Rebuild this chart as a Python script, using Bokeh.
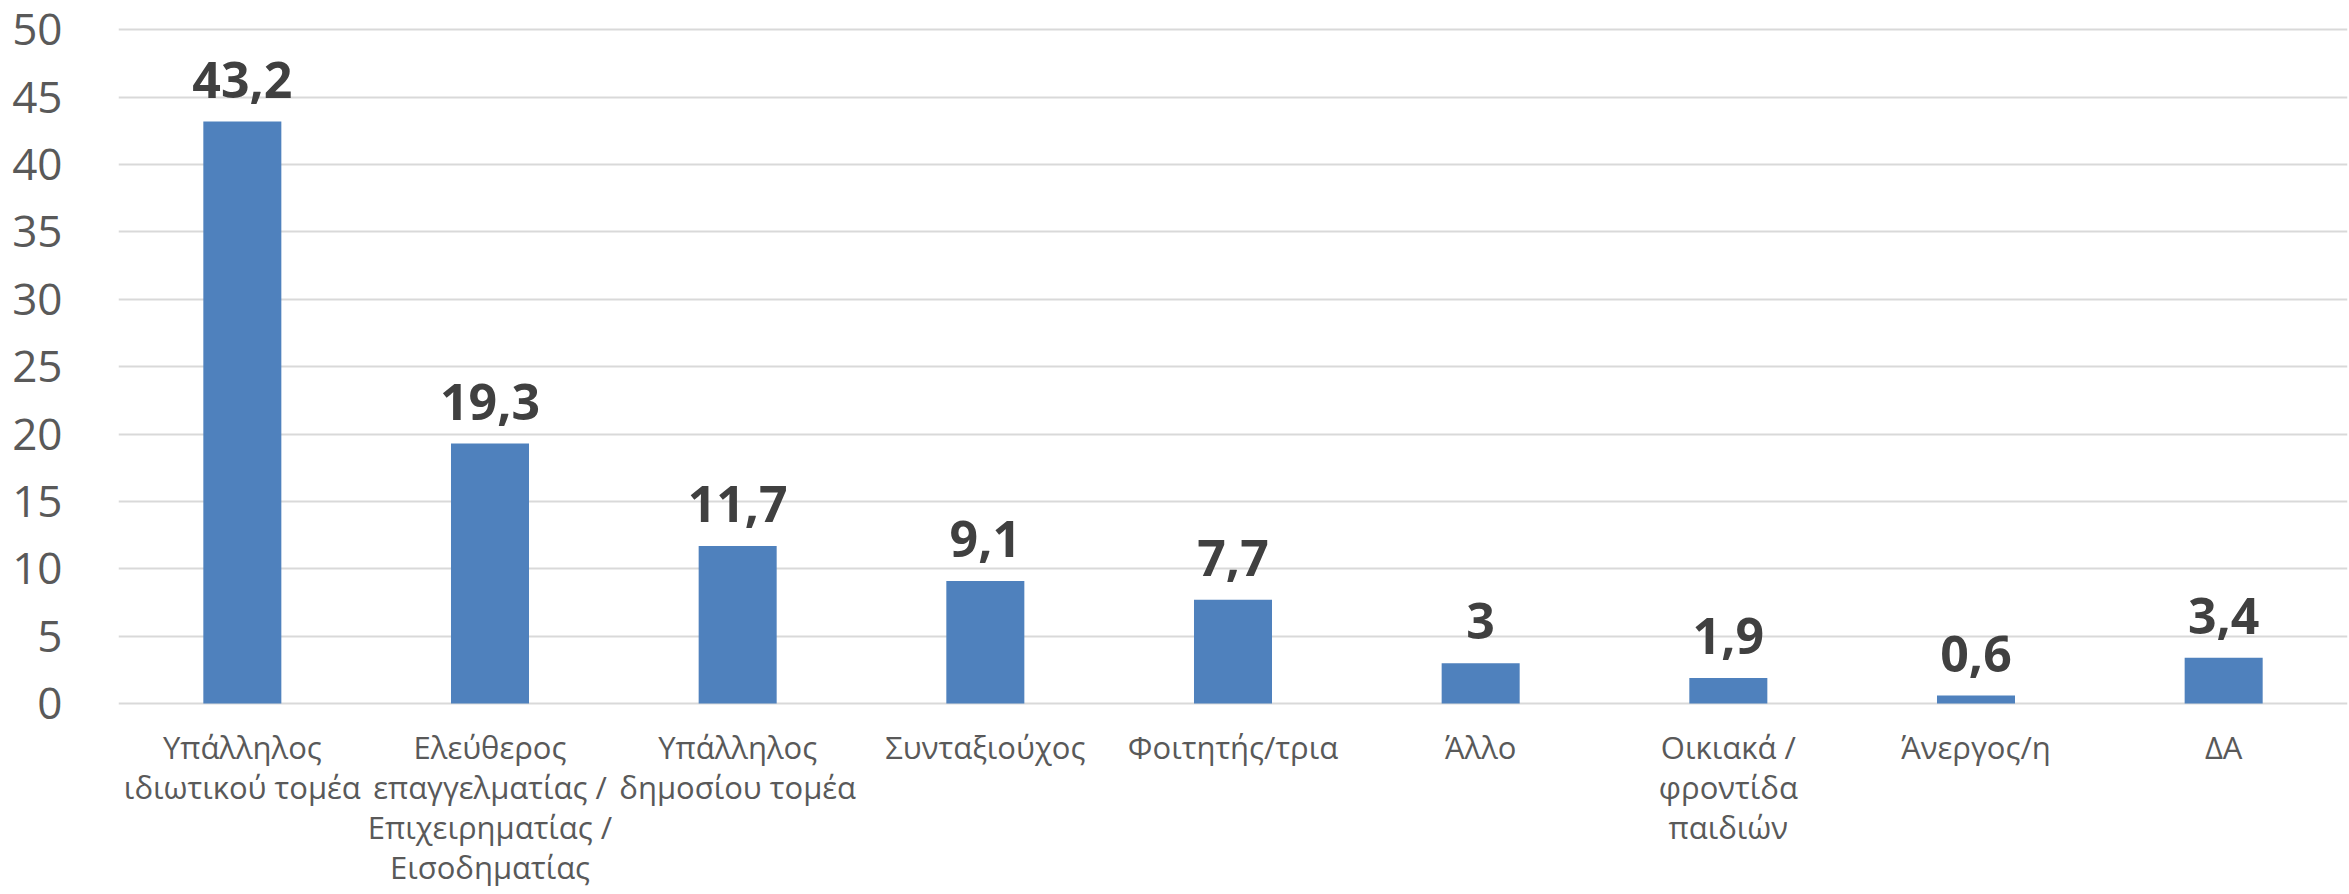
from bokeh.plotting import figure
from bokeh.models import ColumnDataSource, Range1d, FixedTicker
from bokeh.core.properties import value
from bokeh.embed import file_html
from bokeh.resources import INLINE

categories = ["Υπάλληλος ιδιωτικού τομέα", "Ελεύθερος επαγγελματίας / Επιχειρηματίας / Εισοδηματίας",
              "Υπάλληλος δημοσίου τομέα", "Συνταξιούχος", "Φοιτητής/τρια", "Άλλο",
              "Οικιακά / φροντίδα παιδιών", "Άνεργος/η", "ΔΑ"]
tick_label_lines = [["Υπάλληλος", "ιδιωτικού τομέα"],
                    ["Ελεύθερος", "επαγγελματίας /", "Επιχειρηματίας /", "Εισοδηματίας"],
                    ["Υπάλληλος", "δημοσίου τομέα"],
                    ["Συνταξιούχος"],
                    ["Φοιτητής/τρια"],
                    ["Άλλο"],
                    ["Οικιακά /", "φροντίδα", "παιδιών"],
                    ["Άνεργος/η"],
                    ["ΔΑ"]]
values = [43.2, 19.3, 11.7, 9.1, 7.7, 3, 1.9, 0.6, 3.4]
value_labels = ["43,2", "19,3", "11,7", "9,1", "7,7", "3", "1,9", "0,6", "3,4"]
y_ticks = [0, 5, 10, 15, 20, 25, 30, 35, 40, 45, 50]

src = ColumnDataSource(dict(cat=categories, val=values, lab=value_labels))

W, H = 2349, 894
TOP50, ZERO_Y = 29, 703
px_per_unit = (ZERO_Y - TOP50) / 50.0
y_end = 50.4
frame_top = TOP50 - (y_end - 50) * px_per_unit
y_start = 50 - (H - TOP50) / px_per_unit

p = figure(x_range=categories, y_range=Range1d(y_start, y_end), width=W, height=H,
           output_backend="svg", toolbar_location=None,
           min_border_left=118, min_border_right=2, min_border_top=int(round(frame_top)),
           min_border_bottom=0)
p.outline_line_color = None
p.background_fill_color = "white"
p.border_fill_color = "white"

p.vbar(x="cat", top="val", width=0.315, source=src, color="#4f81bd", line_color=None)

p.text(x="cat", y="val", text="lab", source=src, text_align="center",
       text_baseline="alphabetic", y_offset=-42, text_font=value("Open Sans"),
       text_font_style="bold", text_font_size="50px", text_color="#404040")

cx, cy, ct, coff = [], [], [], []
LINE_H = 40
for cat, lines in zip(categories, tick_label_lines):
    for i, ln in enumerate(lines):
        cx.append(cat)
        cy.append(0)
        ct.append(ln)
        coff.append(43 + i * LINE_H)
csrc = ColumnDataSource(dict(x=cx, y=cy, t=ct, off=coff))
p.text(x="x", y="y", text="t", y_offset="off", source=csrc, text_align="center",
       text_baseline="alphabetic", text_font=value("Open Sans"), text_font_size="31px",
       text_color="#595959")

p.xgrid.grid_line_color = None
p.ygrid.grid_line_color = "#d9d9d9"
p.ygrid.grid_line_width = 2
p.yaxis.ticker = FixedTicker(ticks=y_ticks)
p.yaxis.axis_line_color = None
p.yaxis.major_tick_line_color = None
p.yaxis.minor_tick_line_color = None
p.yaxis.major_label_text_font = "Open Sans"
p.yaxis.major_label_text_font_size = "44px"
p.yaxis.major_label_text_color = "#595959"
p.yaxis.major_label_standoff = 50
p.xaxis.visible = False

open("out.html", "w").write(file_html(p, INLINE))
